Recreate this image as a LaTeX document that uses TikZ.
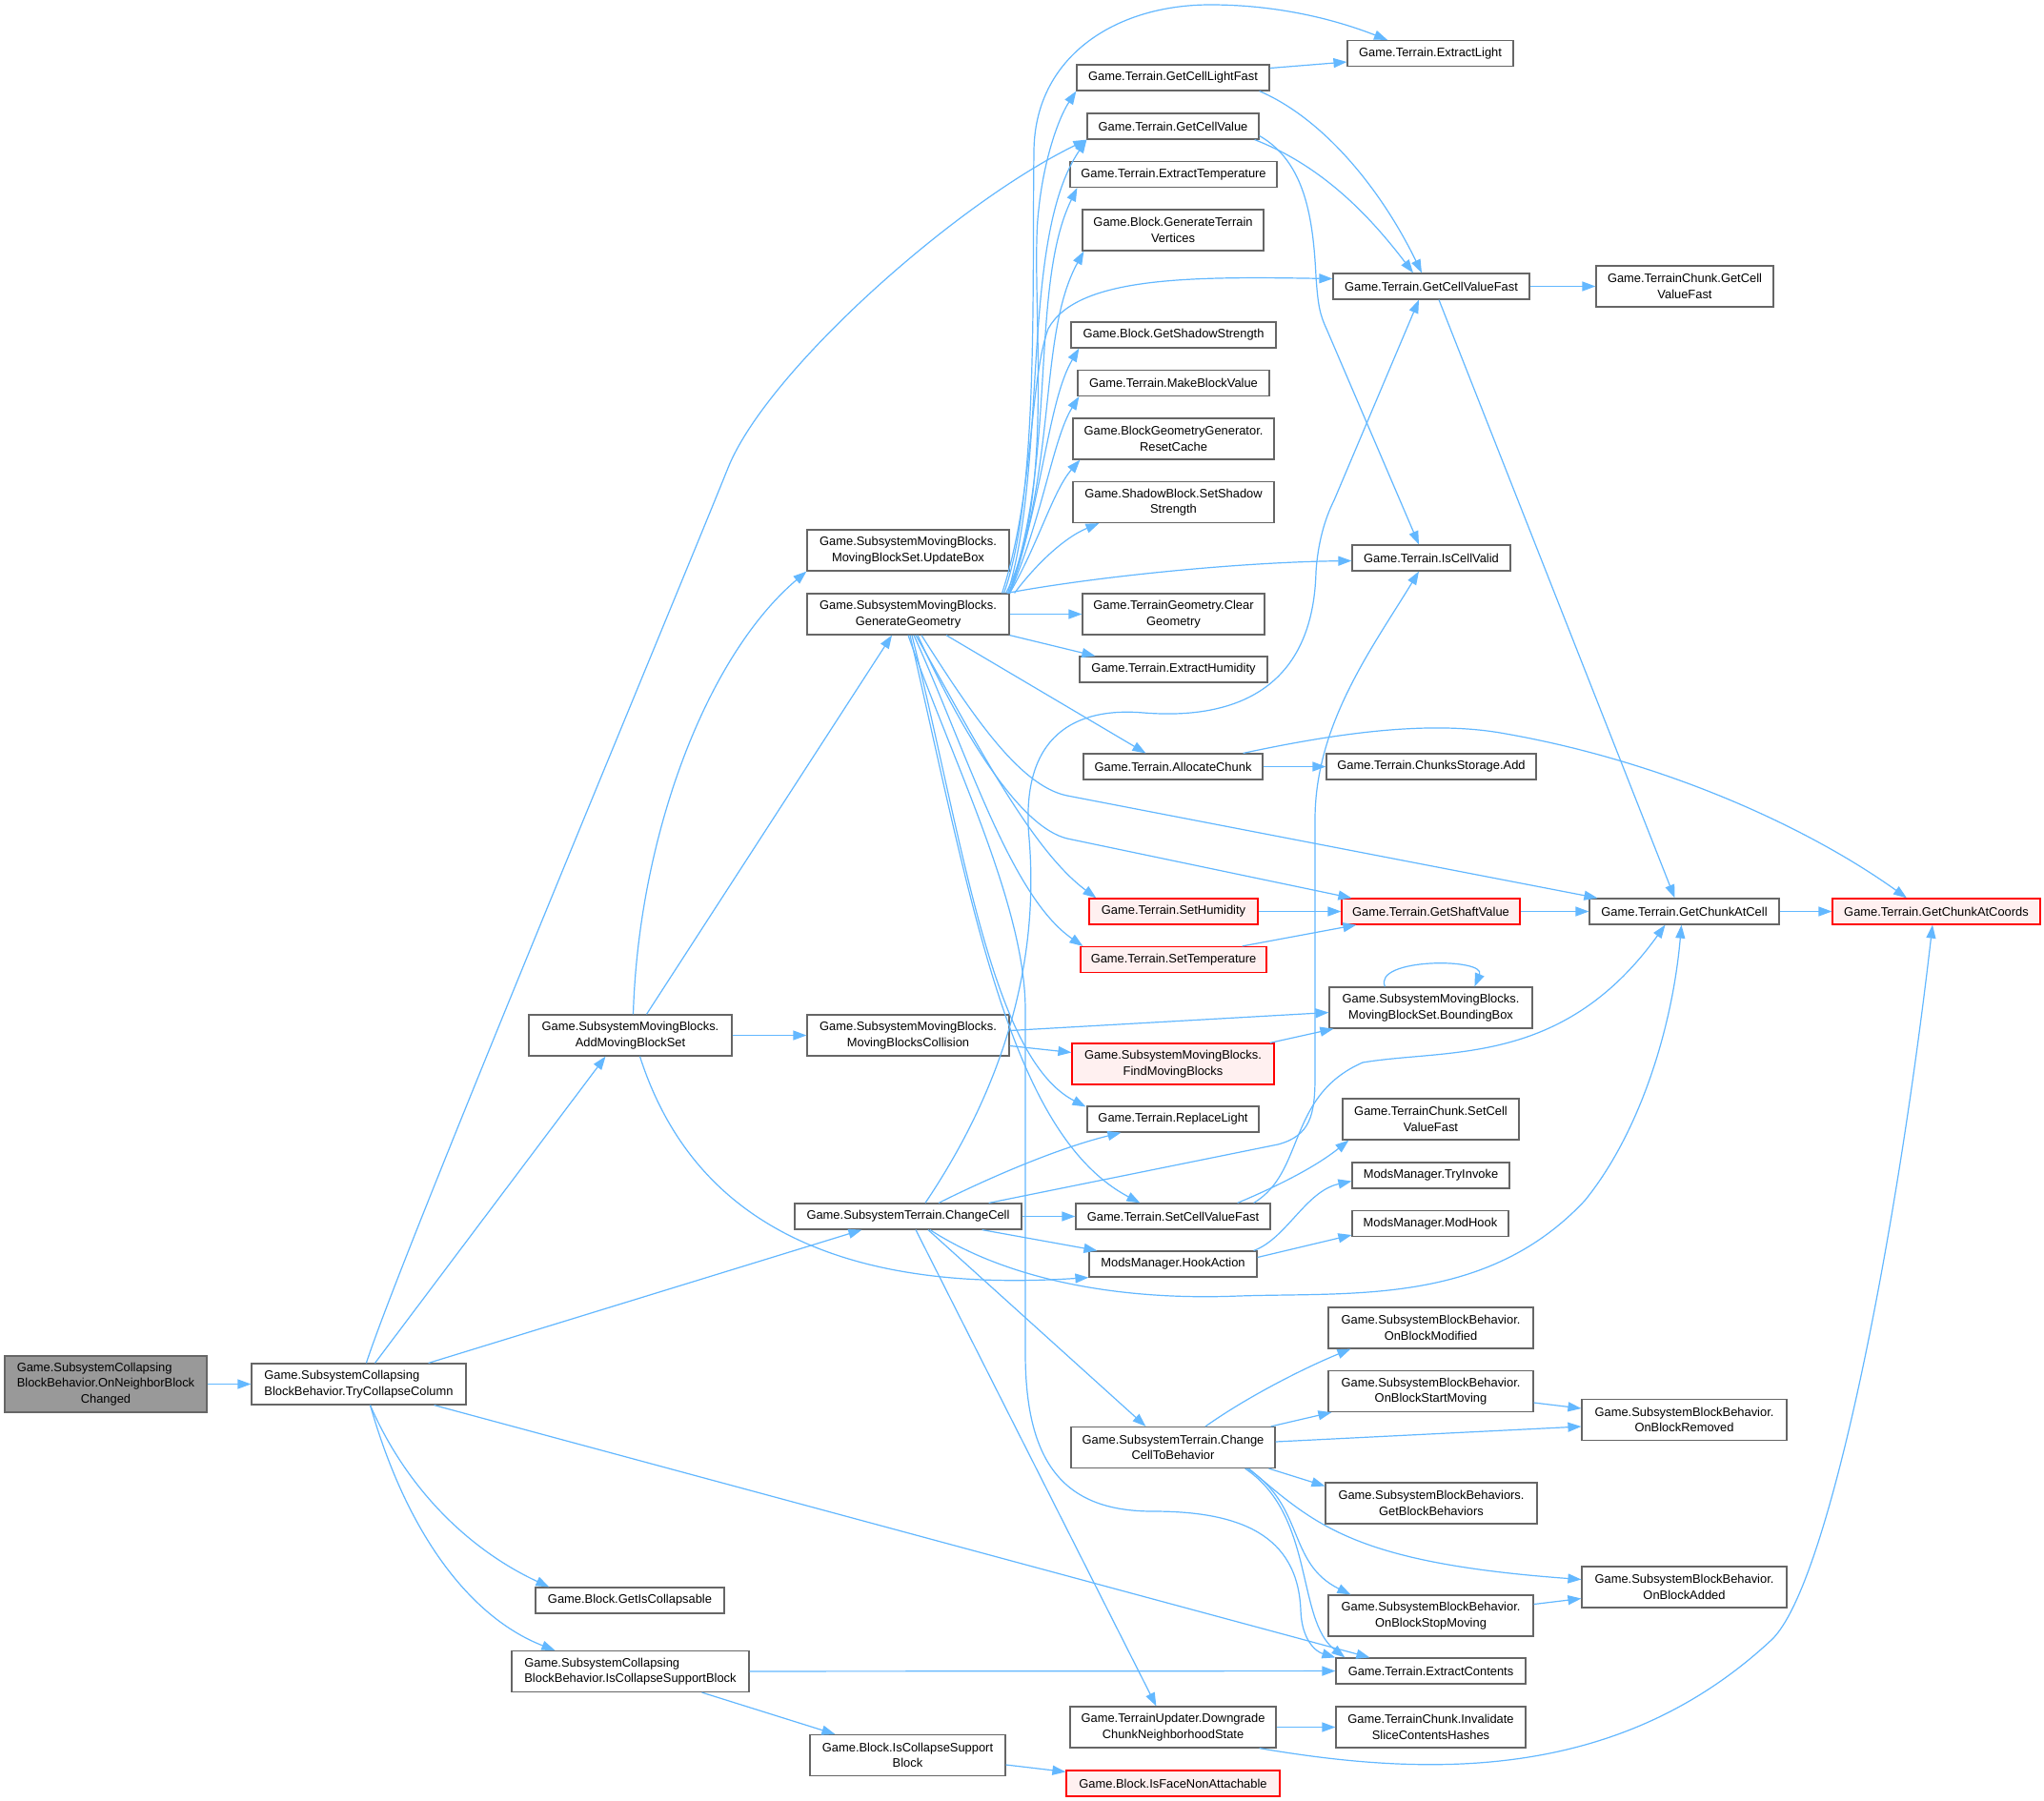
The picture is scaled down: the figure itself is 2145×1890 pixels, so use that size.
\documentclass[tikz,border=0pt]{standalone}
\usepackage{fontspec}
\setmainfont{Liberation Sans}
\usetikzlibrary{arrows.meta,calc}
\definecolor{edgeblue}{HTML}{63B8FF}
\definecolor{ndgray}{HTML}{666666}
\definecolor{rootfill}{HTML}{999999}
\definecolor{redfill}{HTML}{FFF0F0}
\newcommand{\nfont}{\fontsize{12.9}{16.6}\selectfont}
\tikzset{
  nd/.style={draw=ndgray, fill=white, line width=1.2pt, inner sep=0pt, align=center, font=\nfont},
  rednd/.style={nd, draw=red, fill=redfill},
  rootnd/.style={nd, fill=rootfill},
  bw/.style={minimum width=#1pt},
  hone/.style={minimum height=27pt},
  htwo/.style={minimum height=43pt},
  hthree/.style={minimum height=59pt},
  ed/.style={draw=edgeblue, line width=1.2pt, -{Triangle[length=14pt,width=10pt]}}
}
\begin{document}
\begin{tikzpicture}[x=1pt,y=-1pt]
\fill[white] (0,0) rectangle (2145,1890);
\useasboundingbox (0,0) rectangle (2145,1890);

% ---------- nodes ----------
\node[rootnd, bw=212, hthree] (root) at (111,1452.5) {\begin{tabular}{@{}l@{}}Game.SubsystemCollapsing\\BlockBehavior.OnNeighborBlock\\\multicolumn{1}{@{}c@{}}{Changed}\end{tabular}};
\node[nd, bw=225, htwo, align=left] (tcc) at (376.5,1452.5) {Game.SubsystemCollapsing\\BlockBehavior.TryCollapseColumn};
\node[nd, bw=198, hone] (getiscol) at (661,1679.5) {Game.Block.GetIsCollapsable};
\node[nd, bw=249, htwo, align=left] (iscsb) at (661.5,1754) {Game.SubsystemCollapsing\\BlockBehavior.IsCollapseSupportBlock};
\node[nd, bw=205, htwo] (bicsb) at (952.5,1842) {Game.Block.IsCollapseSupport\\Block};
\node[rednd, bw=224, hone] (isface) at (1231,1871.5) {Game.Block.IsFaceNonAttachable};
\node[nd, bw=213, htwo] (addmbs) at (661.5,1086.5) {Game.SubsystemMovingBlocks.\\AddMovingBlockSet};
\node[nd, bw=212, htwo] (updbox) at (953,577.5) {Game.SubsystemMovingBlocks.\\MovingBlockSet.UpdateBox};
\node[nd, bw=212, htwo] (gengeo) at (953,644.5) {Game.SubsystemMovingBlocks.\\GenerateGeometry};
\node[nd, bw=212, htwo] (mbcoll) at (953,1086.5) {Game.SubsystemMovingBlocks.\\MovingBlocksCollision};
\node[nd, bw=238, hone] (changecell) at (953,1276.5) {Game.SubsystemTerrain.ChangeCell};
\node[nd, bw=214, htwo] (cctb) at (1231,1519) {Game.SubsystemTerrain.Change\\CellToBehavior};
\node[nd, bw=216, htwo] (downgrade) at (1231,1812.5) {Game.TerrainUpdater.Downgrade\\ChunkNeighborhoodState};
\node[nd, bw=202, hone] (getlightfast) at (1231,81.5) {Game.Terrain.GetCellLightFast};
\node[nd, bw=180, hone] (getcellvalue) at (1231,132.5) {Game.Terrain.GetCellValue};
\node[nd, bw=217, hone] (exttemp) at (1231.5,183) {Game.Terrain.ExtractTemperature};
\node[nd, bw=190, htwo] (gentv) at (1231,241.5) {Game.Block.GenerateTerrain\\Vertices};
\node[nd, bw=215, hone] (getshadow) at (1231.5,351.5) {Game.Block.GetShadowStrength};
\node[nd, bw=201, hone] (makebv) at (1231.5,402) {Game.Terrain.MakeBlockValue};
\node[nd, bw=211, htwo] (resetcache) at (1231.5,460.5) {Game.BlockGeometryGenerator.\\ResetCache};
\node[nd, bw=211, htwo] (setshadow) at (1231.5,527) {Game.ShadowBlock.SetShadow\\Strength};
\node[nd, bw=191, htwo] (cleargeo) at (1231.5,644.5) {Game.TerrainGeometry.Clear\\Geometry};
\node[nd, bw=197, hone] (exthum) at (1231.5,702.5) {Game.Terrain.ExtractHumidity};
\node[nd, bw=188, hone] (alloc) at (1231,804.5) {Game.Terrain.AllocateChunk};
\node[rednd, bw=177, hone] (sethum) at (1231.5,956.5) {Game.Terrain.SetHumidity};
\node[rednd, bw=195, hone] (settemp) at (1231.5,1007) {Game.Terrain.SetTemperature};
\node[rednd, bw=212, htwo] (findmb) at (1231,1116.5) {Game.SubsystemMovingBlocks.\\FindMovingBlocks};
\node[nd, bw=180, hone] (replight) at (1231,1174.5) {Game.Terrain.ReplaceLight};
\node[nd, bw=204, hone] (setcvf) at (1231,1276.5) {Game.Terrain.SetCellValueFast};
\node[nd, bw=176, hone] (hookaction) at (1231,1326.5) {ModsManager.HookAction};
\node[nd, bw=174, hone] (extlight) at (1501,56) {Game.Terrain.ExtractLight};
\node[nd, bw=206, hone] (getcvf) at (1502,300.5) {Game.Terrain.GetCellValueFast};
\node[nd, bw=186, htwo] (tcgetcvf) at (1768,300.5) {Game.TerrainChunk.GetCell\\ValueFast};
\node[nd, bw=166, hone] (iscellvalid) at (1502,585.5) {Game.Terrain.IsCellValid};
\node[nd, bw=220, hone] (chunksadd) at (1502,804.5) {Game.Terrain.ChunksStorage.Add};
\node[rednd, bw=187, hone] (getshaft) at (1501.5,956.5) {Game.Terrain.GetShaftValue};
\node[nd, bw=199, hone] (getchunkcell) at (1767.5,956.5) {Game.Terrain.GetChunkAtCell};
\node[rednd, bw=218, hone] (getchunkcoords) at (2032,956.5) {Game.Terrain.GetChunkAtCoords};
\node[nd, bw=213, htwo] (bbox) at (1501.5,1057.5) {Game.SubsystemMovingBlocks.\\MovingBlockSet.BoundingBox};
\node[nd, bw=185, htwo] (tcsetcvf) at (1501.5,1174.5) {Game.TerrainChunk.SetCell\\ValueFast};
\node[nd, bw=165, hone] (tryinvoke) at (1501.5,1233.5) {ModsManager.TryInvoke};
\node[nd, bw=164, hone] (modhook) at (1501,1284) {ModsManager.ModHook};
\node[nd, bw=215, htwo] (onmod) at (1501.5,1393.5) {Game.SubsystemBlockBehavior.\\OnBlockModified};
\node[nd, bw=215, htwo] (onstart) at (1501.5,1460) {Game.SubsystemBlockBehavior.\\OnBlockStartMoving};
\node[nd, bw=215, htwo] (onremoved) at (1767.5,1490) {Game.SubsystemBlockBehavior.\\OnBlockRemoved};
\node[nd, bw=222, htwo] (getbb) at (1502,1577.5) {Game.SubsystemBlockBehaviors.\\GetBlockBehaviors};
\node[nd, bw=215, htwo] (onadded) at (1767.5,1665.5) {Game.SubsystemBlockBehavior.\\OnBlockAdded};
\node[nd, bw=215, htwo] (onstop) at (1501.5,1695.5) {Game.SubsystemBlockBehavior.\\OnBlockStopMoving};
\node[nd, bw=199, hone] (extcont) at (1501.5,1753.5) {Game.Terrain.ExtractContents};
\node[nd, bw=199, htwo] (invalidate) at (1501.5,1812.5) {Game.TerrainChunk.Invalidate\\SliceContentsHashes};

% ---------- edges ----------
\draw[ed] (root) -- (tcc);
\draw[ed] ($(tcc.north west)+(121,0)$) .. controls (420,1320) and (700,650) .. (764,491) .. controls (804,391) and (1000,215) .. (getcellvalue.south west);
\draw[ed] ($(tcc.north)+(17,0)$) -- ($(addmbs.south)+(-26,0)$);
\draw[ed] ($(tcc.north east)+(-40,0)$) -- ($(changecell.south west)+(71,0)$);
\draw[ed] ($(tcc.south east)+(-34,0)$) -- ($(extcont.north west)+(36,0)$);
\draw[ed] ($(tcc.south)+(12,0)$) .. controls (430,1570) and (500,1630) .. ($(getiscol.north west)+(15,0)$);
\draw[ed] ($(tcc.south)+(12,0)$) .. controls (430,1620) and (500,1700) .. ($(iscsb.north west)+(46,0)$);
\draw[ed] (iscsb) -- (extcont);
\draw[ed] ($(iscsb.south east)+(-50,0)$) -- ($(bicsb.north west)+(27,0)$);
\draw[ed] ($(bicsb.east)+(0,10)$) -- ($(isface.north west)+(0,2)$);

\draw[ed] ($(addmbs.north)+(3,0)$) .. controls (670,880) and (740,690) .. (updbox.south west);
\draw[ed] ($(addmbs.north)+(17,0)$) -- ($(gengeo.south)+(-17,0)$);
\draw[ed] (addmbs) -- (mbcoll);
\draw[ed] ($(addmbs.south)+(10,0)$) .. controls (720,1260) and (850,1360) .. (hookaction.south west);

\draw[ed] ($(mbcoll.east)+(0,-5)$) -- ($(bbox.west)+(0,5)$);
\draw[ed] ($(mbcoll.east)+(0,11)$) -- ($(findmb.west)+(0,-12)$);
\draw[ed] ($(findmb.north east)+(-5,0)$) -- ($(bbox.south west)+(5,0)$);
\draw[ed] ($(bbox.north west)+(59,0)$) .. controls (1440,1005) and (1560,1005) .. ($(bbox.north west)+(153,0)$);

\draw[ed] (changecell) -- (setcvf);
\draw[ed] ($(changecell.south east)+(-42,0)$) -- ($(hookaction.north west)+(9,0)$);
\draw[ed] ($(changecell.north)+(32,0)$) .. controls (1040,1235) and (1110,1205) .. ($(replight.south west)+(36,0)$);
\draw[ed] ($(changecell.north)+(18,0)$) .. controls (1060,1130) and (1090,1000) .. (1080,880) .. controls (1070,770) and (1130,742) .. (1200,748) .. controls (1300,756) and (1378,720) .. (1381,600) .. controls (1383,570) and (1390,545) .. (1400,525) -- ($(getcvf.south)+(-13,0)$);
\draw[ed] ($(changecell.north east)+(-35,0)$) -- (1341,1201) .. controls (1375,1192) and (1380,1170) .. (1380,1130) -- (1380,860) .. controls (1380,760) and (1440,680) .. ($(iscellvalid.south)+(-13,0)$);
\draw[ed] ($(changecell.south)+(23,0)$) .. controls (1060,1345) and (1180,1365) .. (1300,1360) .. controls (1420,1356) and (1560,1370) .. (1663,1260) .. controls (1720,1190) and (1755,1080) .. ($(getchunkcell.south)+(-3,0)$);
\draw[ed] ($(changecell.south)+(21,0)$) -- ($(cctb.north west)+(79,0)$);
\draw[ed] ($(changecell.south)+(8,0)$) -- ($(downgrade.north west)+(91,0)$);

\draw[ed] ($(setcvf.north east)+(-35,0)$) .. controls (1340,1245) and (1380,1225) .. ($(tcsetcvf.south west)+(7,0)$);
\draw[ed] ($(setcvf.north east)+(-18,0)$) .. controls (1370,1230) and (1350,1150) .. (1430,1115) .. controls (1520,1100) and (1640,1120) .. ($(getchunkcell.south)+(-20,0)$);
\draw[ed] ($(hookaction.north east)+(-4,0)$) .. controls (1350,1300) and (1370,1250) .. ($(tryinvoke.west)+(0,6)$);
\draw[ed] ($(hookaction.east)+(0,-7)$) -- ($(modhook.west)+(0,12)$);

\draw[ed] ($(cctb.north)+(34,0)$) .. controls (1310,1465) and (1370,1435) .. ($(onmod.south west)+(24,0)$);
\draw[ed] ($(cctb.north east)+(-5,0)$) -- ($(onstart.south west)+(4,0)$);
\draw[ed] ($(cctb.east)+(0,-6)$) -- ($(onremoved.west)+(0,7)$);
\draw[ed] ($(cctb.south east)+(-7,0)$) -- ($(getbb.west)+(0,-18)$);
\draw[ed] ($(cctb.south east)+(-28,0)$) .. controls (1380,1600) and (1420,1640) .. ($(onadded.west)+(0,-8)$);
\draw[ed] ($(cctb.south east)+(-30,0)$) .. controls (1370,1580) and (1350,1640) .. ($(onstop.north west)+(24,0)$);
\draw[ed] ($(cctb.south east)+(-32,0)$) .. controls (1380,1590) and (1360,1700) .. ($(extcont.north west)+(10,0)$);
\draw[ed] ($(onstart.east)+(0,12)$) -- ($(onremoved.west)+(0,-12)$);
\draw[ed] ($(onstop.east)+(0,-12)$) -- ($(onadded.west)+(0,12)$);

\draw[ed] (downgrade) -- (invalidate);
\draw[ed] ($(downgrade.south east)+(-18,0)$) .. controls (1500,1865) and (1700,1870) .. (1860,1720) .. controls (1920,1660) and (1990,1300) .. ($(getchunkcoords.south)+(-4,0)$);

\draw[ed] ($(getlightfast.east)+(0,-10)$) -- ($(extlight.west)+(0,9)$);
\draw[ed] ($(getlightfast.south east)+(-11,0)$) .. controls (1390,125) and (1450,200) .. ($(getcvf.north)+(-10,0)$);
\draw[ed] ($(getcellvalue.south east)+(-5,0)$) .. controls (1390,175) and (1440,230) .. ($(getcvf.north)+(-19,0)$);
\draw[ed] ($(getcellvalue.east)+(0,10)$) .. controls (1370,170) and (1378,230) .. (1381,290) .. controls (1383,320) and (1385,330) .. (1392,345) -- ($(iscellvalid.north)+(-13,0)$);
\draw[ed] (getcvf) -- (tcgetcvf);
\draw[ed] ($(getcvf.south)+(8,0)$) -- ($(getchunkcell.north)+(-10,0)$);
\draw[ed] (alloc) -- (chunksadd);
\draw[ed] ($(alloc.north east)+(-21,0)$) .. controls (1400,770) and (1500,755) .. (1580,770) .. controls (1750,800) and (1900,870) .. ($(getchunkcoords.north)+(-31,0)$);
\draw[ed] (sethum) -- (getshaft);
\draw[ed] ($(settemp.north east)+(-26,0)$) -- ($(getshaft.south west)+(16,0)$);
\draw[ed] (getshaft) -- (getchunkcell);
\draw[ed] (getchunkcell) -- (getchunkcoords);

% GenerateGeometry fan (top)
\draw[ed] ($(gengeo.north east)+(-6,0)$) .. controls (1090,520) and (1083,300) .. (1085,160) .. controls (1085,60) and (1170,5) .. (1270,5) .. controls (1340,5) and (1400,20) .. ($(extlight.north)+(-45,0)$);
\draw[ed] ($(gengeo.north east)+(-4,0)$) .. controls (1110,520) and (1080,300) .. (1090,220) .. controls (1095,170) and (1110,125) .. (getlightfast.south west);
\draw[ed] ($(gengeo.north east)+(-2,0)$) .. controls (1100,480) and (1070,250) .. (getcellvalue.south west);
\draw[ed] ($(gengeo.north east)+(-1,0)$) .. controls (1110,480) and (1080,300) .. ($(exttemp.south west)+(8,0)$);
\draw[ed] (gengeo.north east) .. controls (1110,480) and (1090,350) .. ($(gentv.south west)+(2,0)$);
\draw[ed] ($(gengeo.north east)+(-8,0)$) .. controls (1085,520) and (1080,400) .. (1100,345) .. controls (1130,290) and (1250,290) .. ($(getcvf.west)+(0,-8)$);
\draw[ed] (gengeo.north east) .. controls (1095,520) and (1100,420) .. ($(getshadow.south west)+(9,0)$);
\draw[ed] (gengeo.north east) .. controls (1095,540) and (1105,460) .. ($(makebv.south west)+(2,0)$);
\draw[ed] (gengeo.north east) .. controls (1090,570) and (1105,515) .. ($(resetcache.south west)+(8,0)$);
\draw[ed] ($(gengeo.north east)+(5,0)$) .. controls (1085,595) and (1115,565) .. ($(setshadow.south west)+(28,0)$);
\draw[ed] ($(gengeo.north east)+(-3,0)$) .. controls (1150,605) and (1300,590) .. ($(iscellvalid.west)+(0,3)$);
\draw[ed] (gengeo) -- (cleargeo);
\draw[ed] (gengeo.south east) -- ($(exthum.north west)+(17,0)$);

% GenerateGeometry fan (bottom)
\draw[ed] ($(gengeo.south)+(40,0)$) -- ($(alloc.north west)+(66,0)$);
\draw[ed] ($(gengeo.south)+(14,0)$) .. controls (1020,750) and (1070,825) .. (1120,835) -- ($(getchunkcell.north west)+(9,0)$);
\draw[ed] ($(gengeo.south)+(10,0)$) .. controls (1010,770) and (1070,868) .. (1120,880) -- ($(getshaft.north west)+(11,0)$);
\draw[ed] ($(gengeo.south)+(8,0)$) .. controls (1020,770) and (1080,890) .. ($(sethum.north west)+(8,0)$);
\draw[ed] ($(gengeo.south)+(6,0)$) .. controls (1015,790) and (1060,940) .. ($(settemp.north west)+(3,0)$);
\draw[ed] ($(gengeo.south)+(4,0)$) .. controls (1010,880) and (1040,1110) .. ($(replight.north west)+(-1,1)$);
\draw[ed] ($(gengeo.south)+(2,0)$) .. controls (1020,950) and (1060,1190) .. ($(setcvf.north west)+(68,0)$);
\draw[ed] (gengeo.south) .. controls (1000,800) and (1076,950) .. (1076,1060) -- (1076,1420) .. controls (1076,1540) and (1120,1586) .. (1210,1586) .. controls (1300,1586) and (1362,1610) .. (1365,1690) .. controls (1366,1720) and (1380,1733) .. (extcont.north west);
\end{tikzpicture}
\end{document}
